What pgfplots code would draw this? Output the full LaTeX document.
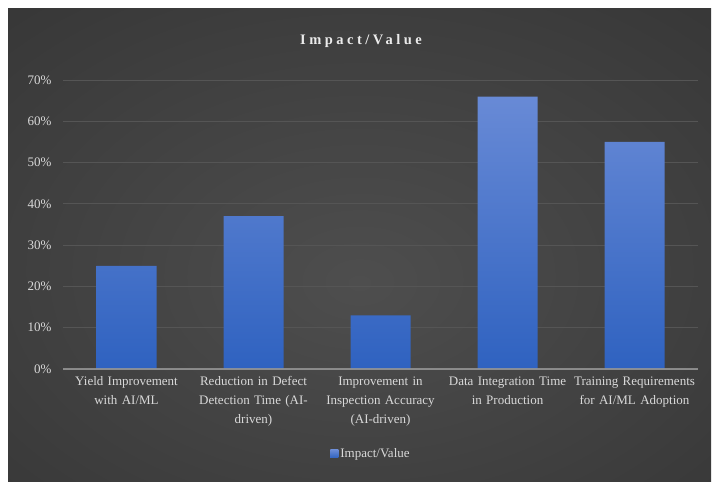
\documentclass[border=0pt]{standalone}
\usepackage{pgfplots}
\pgfplotsset{compat=1.18}
\usepackage{fontspec}
\setmainfont{Liberation Serif}
\definecolor{bgin}{RGB}{78,78,78}
\definecolor{bgout}{RGB}{34,34,34}
\definecolor{bartop}{RGB}{104,138,214}
\definecolor{barbot}{RGB}{47,98,192}
\definecolor{gridc}{RGB}{85,85,85}
\definecolor{basec}{RGB}{150,150,150}
\definecolor{txt}{RGB}{217,217,217}
\definecolor{ttl}{RGB}{235,235,235}
\pgfdeclareradialshading{chartbg}{\pgfpoint{0bp}{-4bp}}{color(0bp)=(bgin); color(72bp)=(bgout)}
\begin{document}
\begin{tikzpicture}
\useasboundingbox (0,0) rectangle (718bp,482bp);
\fill[white] (0,0) rectangle (718bp,482bp);
\shade[shading=chartbg] (8bp,0) rectangle (711bp,473bp);
\node[text=ttl, font=\bfseries\fontsize{14.5bp}{16bp}\selectfont\addfontfeatures{LetterSpace=24}] at (361bp,441bp) {Impact/Value};
\begin{axis}[
  at={(63bp,113bp)}, anchor=south west,
  scale only axis, width=635bp, height=289bp,
  xmin=-0.5, xmax=4.5, ymin=0, ymax=70,
  ybar, bar width=60bp,
  clip=false,
  axis line style={draw=none},
  tick style={draw=none},
  ymajorgrids,
  major grid style={draw=gridc, line width=0.8bp},
  ytick={0,10,20,30,40,50,60,70},
  yticklabels={0\%,10\%,20\%,30\%,40\%,50\%,60\%,70\%},
  yticklabel style={font=\fontsize{13bp}{15bp}\selectfont, text=txt, xshift=-8bp},
  xtick={0,1,2,3,4},
  xticklabels={{Yield Improvement\\with AI/ML},{Reduction in Defect\\Detection Time (AI-\\driven)},{Improvement in\\Inspection Accuracy\\(AI-driven)},{Data Integration Time\\in Production},{Training Requirements\\for AI/ML Adoption}},
  xticklabel style={text width=130bp, align=center, font=\fontsize{13bp}{19bp}\selectfont, text=txt},
  legend style={at={(0.485,-0.294)}, anchor=center, draw=none, fill=none,
    font=\fontsize{13bp}{15bp}\selectfont, text=txt, inner sep=0pt},
  legend image code/.code={\fill[bartop!40!barbot] (0bp,-4bp) rectangle (8bp,4bp);},
]
\addplot[draw=none, top color=bartop, bottom color=barbot] coordinates {(0,25) (1,37) (2,13) (3,66) (4,55)};
\addlegendentry{Impact/Value}
\draw[line width=2bp, draw=basec, opacity=0.85] (axis cs:-0.5,0) -- (axis cs:4.5,0);
\end{axis}
\end{tikzpicture}
\end{document}
